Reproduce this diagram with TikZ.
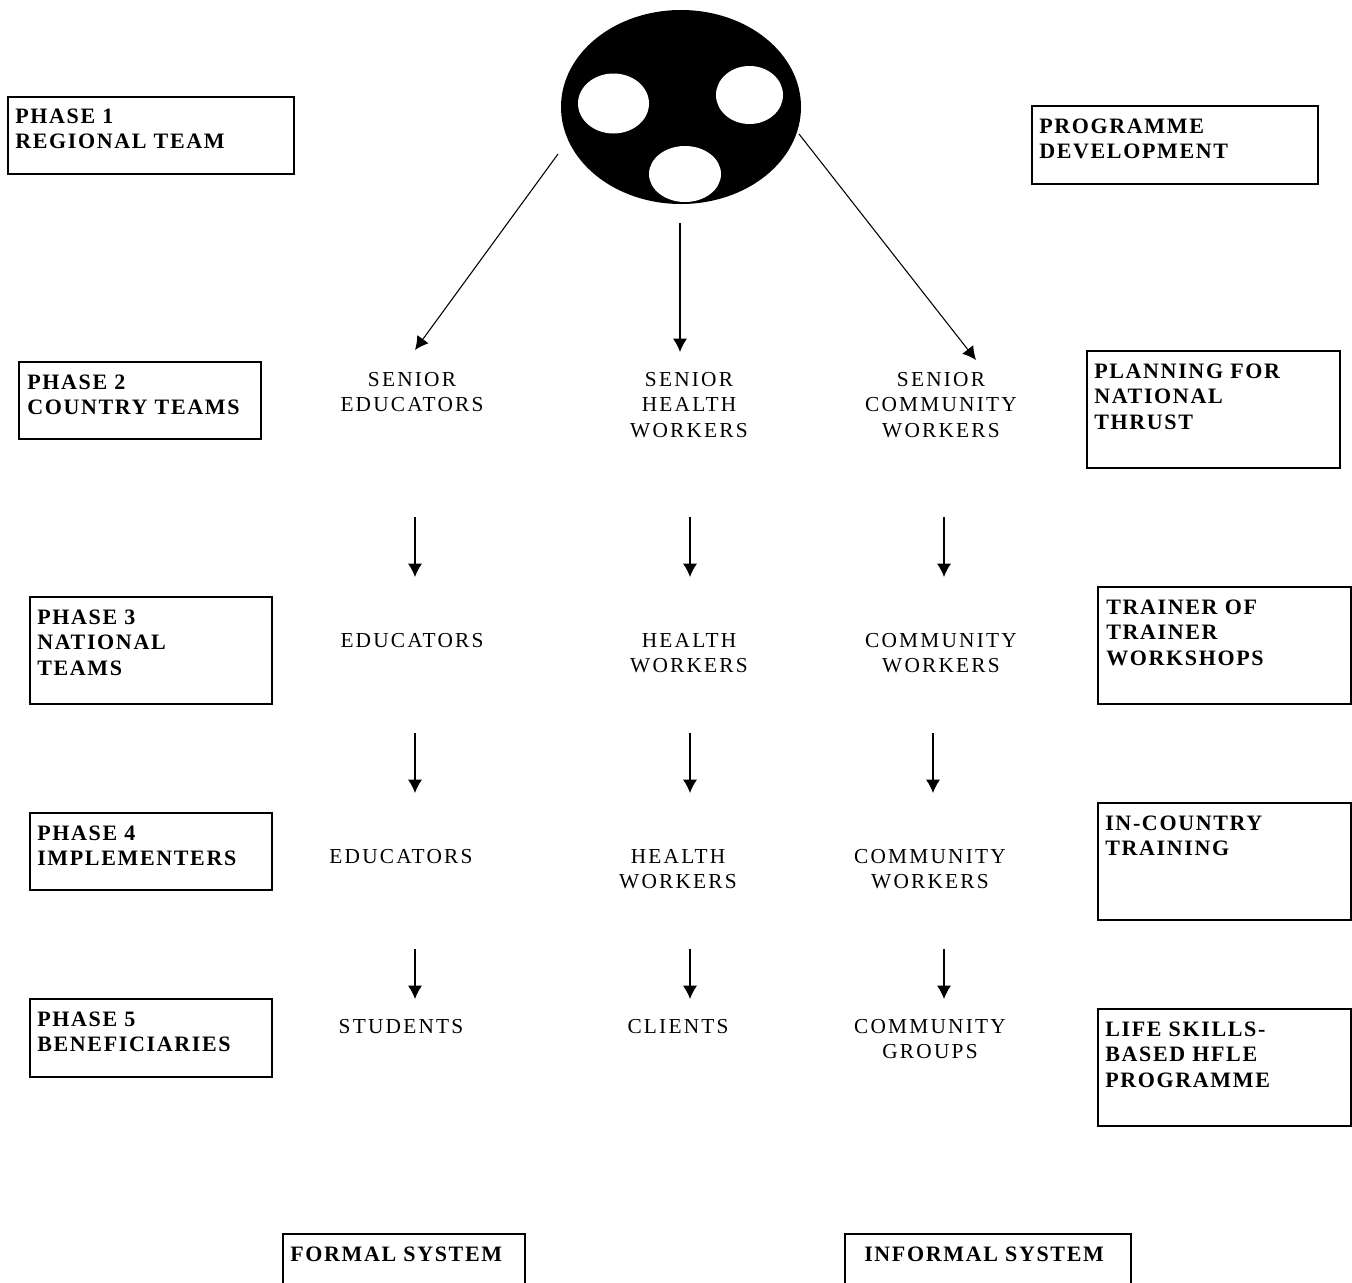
\documentclass[tikz,border=0pt]{standalone}
\usepackage{fontspec}
\setmainfont{Liberation Serif}
\newfontfamily\lblfont[LetterSpace=10.4]{Liberation Serif}
\newfontfamily\boldlbl[LetterSpace=7.5]{Liberation Serif Bold}
\usetikzlibrary{arrows.meta}
\tikzset{x=0.75pt,y=-0.75pt,
 phasebox/.style={draw=black,line width=0.8pt,anchor=north west,inner sep=0pt,outer sep=0pt},
 boxtext/.style={anchor=north west,align=left,inner sep=0pt,yshift=-3.9pt,font=\boldlbl\fontsize{16.5}{19.2}\selectfont},
 lbl/.style={align=center,inner sep=0pt,anchor=north,yshift=-3.9pt,font=\lblfont\fontsize{16}{19}\selectfont},
 arr/.style={draw=black,line width=0.8pt,-{Latex[length=10pt,width=10.5pt]}},
}
\begin{document}
\begin{tikzpicture}
\useasboundingbox (0,0) rectangle (1352,1282);
% logo
\fill[black] (681,107) ellipse [x radius=120,y radius=97];
\fill[white] (613.5,103.5) ellipse [x radius=35.5,y radius=30];
\fill[white] (749.5,95) ellipse [x radius=33.5,y radius=29];
\fill[white] (685,174) ellipse [x radius=36,y radius=28];
% boxes
\foreach \n/\a/\b/\w/\h in {bA/8/97/286/77,bB/1032/106/286/78,bC/19/362/242/77,bD/1087/351/253/117,bE/30/597/242/107,bF/1098/587/253/117,bG/30/813/242/77,bH/1098/803/253/117,bI/30/999/242/78,bJ/1098/1009/253/117,bK/283/1234/242/56,bL/845/1234/286/56}
 {\node[phasebox,minimum width=\w*0.75pt,minimum height=\h*0.75pt] (\n) at (\a,\b) {};}
\node[boxtext] (tA) at (15,103) {PHASE 1\\REGIONAL TEAM};
\node[boxtext] (tB) at (1039,113) {PROGRAMME\\DEVELOPMENT};
\node[boxtext] (tC) at (27,369) {PHASE 2\\COUNTRY TEAMS};
\node[boxtext] (tD) at (1094,358) {PLANNING FOR\\NATIONAL\\THRUST};
\node[boxtext] (tE) at (37,604) {PHASE 3\\NATIONAL\\TEAMS};
\node[boxtext] (tF) at (1106,594) {TRAINER OF\\TRAINER\\WORKSHOPS};
\node[boxtext] (tG) at (37,820) {PHASE 4\\IMPLEMENTERS};
\node[boxtext] (tH) at (1105,810) {IN-COUNTRY\\TRAINING};
\node[boxtext] (tI) at (37,1006) {PHASE 5\\BENEFICIARIES};
\node[boxtext] (tJ) at (1105,1016) {LIFE SKILLS-\\BASED HFLE\\PROGRAMME};
\node[boxtext] (tK) at (290,1241) {FORMAL SYSTEM};
\node[boxtext] (tL) at (864,1241) {INFORMAL SYSTEM};
% labels
\node[lbl] (a1) at (412,367) {SENIOR\\EDUCATORS};
\node[lbl] (a2) at (689,367) {SENIOR\\HEALTH\\WORKERS};
\node[lbl] (a3) at (941,367) {SENIOR\\COMMUNITY\\WORKERS};
\node[lbl] (b1) at (412,628) {EDUCATORS};
\node[lbl] (b2) at (689,628) {HEALTH\\WORKERS};
\node[lbl] (b3) at (941,628) {COMMUNITY\\WORKERS};
\node[lbl] (c1) at (401,844) {EDUCATORS};
\node[lbl] (c2) at (678,844) {HEALTH\\WORKERS};
\node[lbl] (c3) at (930,844) {COMMUNITY\\WORKERS};
\node[lbl] (d1) at (401,1014) {STUDENTS};
\node[lbl] (d2) at (678,1014) {CLIENTS};
\node[lbl] (d3) at (930,1014) {COMMUNITY\\GROUPS};
% arrows
\foreach \i/\sx/\sy/\ex/\ey in {1/558/154/415/350,2/680/223/680/352,3/799/134/976/360,4/415/517/415/577,5/690/517/690/577,6/944/517/944/577,7/415/733/415/793,8/690/733/690/793,9/933/733/933/793,10/415/949/415/999,11/690/949/690/999,12/944/949/944/999}
 {\coordinate (s\i) at (\sx,\sy); \coordinate (e\i) at (\ex,\ey); \draw[arr] (s\i) -- (e\i);}
\end{tikzpicture}
\end{document}
